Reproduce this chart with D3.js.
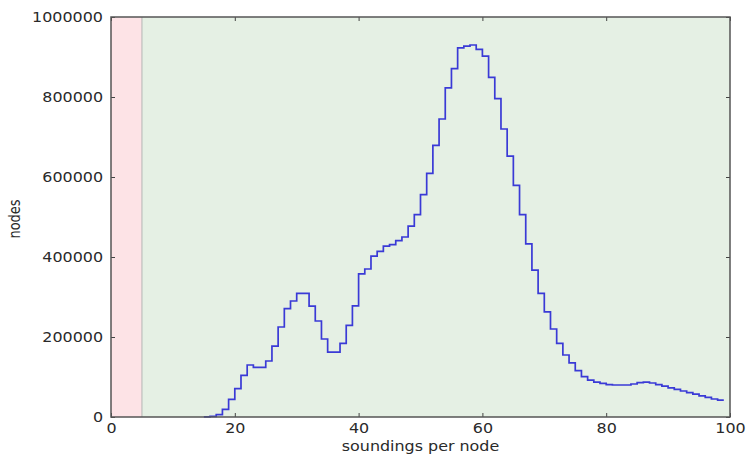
<!DOCTYPE html>
<html>
<head>
<meta charset="UTF-8">
<title>soundings per node</title>
<script src="https://d3js.org/d3.v7.min.js"></script>
<style>
  body { margin: 0; background: #fff; font-family: "DejaVu Sans", sans-serif; }
  .tick text { fill: #2a2a2a; font-size: 13.5px; font-family: "DejaVu Sans", sans-serif; }
  .tick line { stroke: #444; }
</style>
</head>
<body>
<div id="chart"></div>
<script>
// histogram bins (left edge) and counts
const binStart = [15,16,17,18,19,20,21,22,23,24,25,26,27,28,29,30,31,32,33,34,35,36,37,38,39,
  40,41,42,43,44,45,46,47,48,49,50,51,52,53,54,55,56,57,58,59,60,61,62,63,64,65,66,67,68,69,
  70,71,72,73,74,75,76,77,78,79,80,81,82,83,84,85,86,87,88,89,90,91,92,93,94,95,96,97,98];
const counts = [500,1500,6000,19000,44000,71000,104000,130000,124000,124000,140000,177000,225000,
  271000,290000,309000,309000,277000,240000,195000,162000,162000,184000,229000,278000,
  358000,370000,402000,414000,427000,431000,441000,450000,477000,506000,556000,609000,679000,
  745000,823000,871000,923000,927000,930000,919000,902000,849000,796000,720000,652000,579000,
  506000,433000,367000,309000,263000,220000,184000,155000,135500,116000,101000,92000,87000,
  84000,81000,80000,80000,80000,82500,86000,87000,85000,81000,77000,73000,69000,65000,61000,
  57000,53000,49000,45000,42000];
const binEnd = 99;
const xTicks = [0,20,40,60,80,100];
const yTicks = [0,200000,400000,600000,800000,1000000];
const rejectBand = [0,5];
const acceptBand = [5,100];

const W = 746, H = 456;
const margin = {top: 17, right: 16, bottom: 39, left: 111};
const width = W - margin.left - margin.right,
      height = H - margin.top - margin.bottom;
const sx = 1.18; // the picture is a little wider than tall text

const svg = d3.select("#chart").append("svg")
  .attr("width", W).attr("height", H);
const g = svg.append("g").attr("transform", `translate(${margin.left},${margin.top})`);

const x = d3.scaleLinear().domain([0,100]).range([0,width]);
const y = d3.scaleLinear().domain([0,1000000]).range([height,0]);

g.append("rect").attr("x", x(rejectBand[0])).attr("y", 0)
  .attr("width", x(rejectBand[1]) - x(rejectBand[0])).attr("height", height)
  .attr("fill", "#fde3e6");
g.append("rect").attr("x", x(acceptBand[0])).attr("y", 0)
  .attr("width", x(acceptBand[1]) - x(acceptBand[0])).attr("height", height)
  .attr("fill", "#e5f0e4");
g.append("line").attr("x1", x(5)).attr("x2", x(5)).attr("y1", 0).attr("y2", height)
  .attr("stroke", "#b5b5b5").attr("stroke-width", 1);

const pts = binStart.map((b, i) => [b, counts[i]]);
pts.push([binEnd, counts[counts.length - 1]]);

const line = d3.line().x(d => x(d[0])).y(d => y(d[1])).curve(d3.curveStepAfter);
g.append("path").datum(pts)
  .attr("d", line)
  .attr("fill", "none")
  .attr("stroke", "#3a3ad6")
  .attr("stroke-width", 1.7);

// axes, ticks inward on all sides
const xb = g.append("g").attr("transform", `translate(0,${height})`)
  .call(d3.axisBottom(x).tickValues(xTicks).tickSize(-4).tickPadding(6));
const xt = g.append("g").call(d3.axisTop(x).tickValues(xTicks).tickSize(-4).tickFormat(""));
const yl = g.append("g")
  .call(d3.axisLeft(y).tickValues(yTicks).tickSize(-4).tickPadding(7).tickFormat(d3.format("d")));
const yr = g.append("g").attr("transform", `translate(${width},0)`)
  .call(d3.axisRight(y).tickValues(yTicks).tickSize(-4).tickFormat(""));
[xb, xt, yl, yr].forEach(a => a.select(".domain").remove());

xb.selectAll(".tick text").attr("transform", `scale(${sx},1)`);
yl.selectAll(".tick text").attr("x", -8 / sx).attr("transform", `scale(${sx},1)`);

g.append("rect").attr("width", width).attr("height", height)
  .attr("fill", "none").attr("stroke", "#555").attr("stroke-width", 1.5);

svg.append("text")
  .attr("transform", `translate(${margin.left + width / 2},451) scale(${sx},1)`)
  .attr("text-anchor", "middle")
  .attr("fill", "#2a2a2a").style("font-size", "13.5px")
  .text("soundings per node");

svg.append("text")
  .attr("transform", `translate(19.5,219) scale(${sx},1) rotate(-90)`)
  .attr("text-anchor", "middle")
  .attr("fill", "#2a2a2a").style("font-size", "13px")
  .text("nodes");
</script>
</body>
</html>
